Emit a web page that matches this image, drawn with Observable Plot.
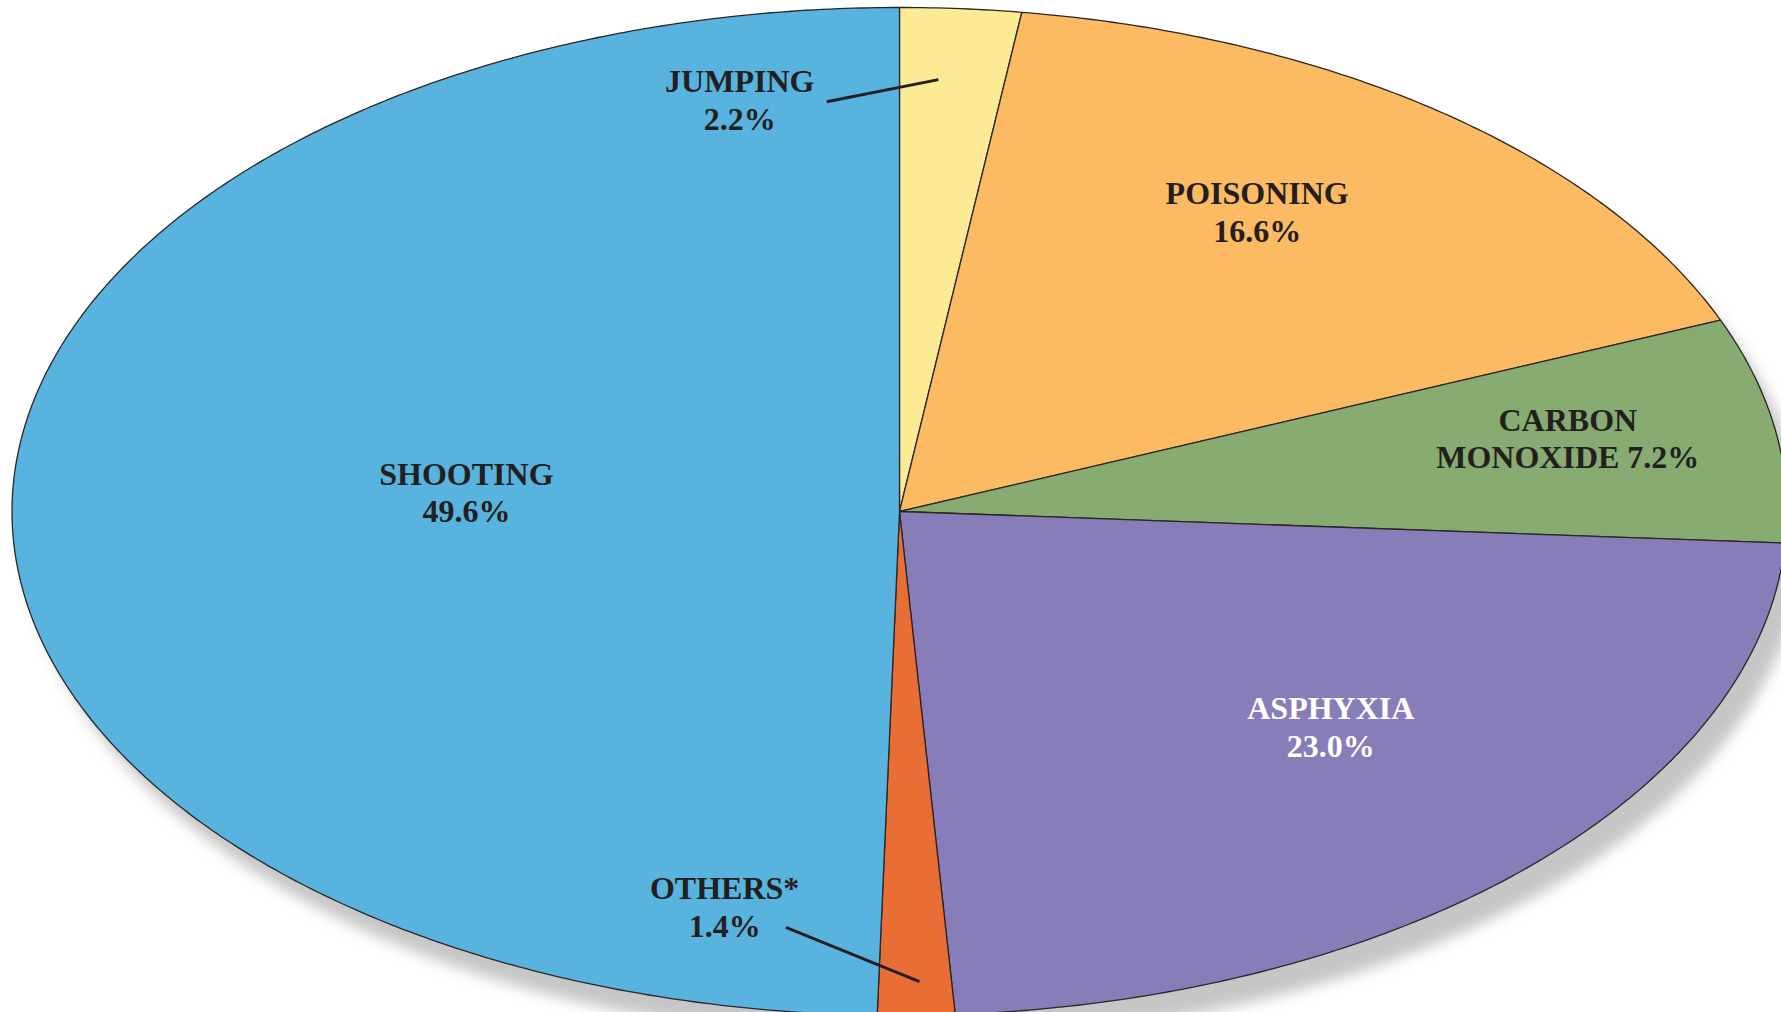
<!DOCTYPE html>
<html>
<head>
<meta charset="utf-8">
<script src="https://cdn.jsdelivr.net/npm/d3@7"></script>
<script src="https://cdn.jsdelivr.net/npm/@observablehq/plot@0.6"></script>
<style>
  html, body { margin: 0; padding: 0; background: #ffffff; overflow: hidden; }
  #chart svg { display: block; }
</style>
</head>
<body>
<div id="chart"></div>
<script>
// ---- data ----
const causes = ["JUMPING", "POISONING", "CARBON MONOXIDE", "ASPHYXIA", "OTHERS*", "SHOOTING"];
const shares = [2.2, 16.6, 7.2, 23.0, 1.4, 49.6];
const sliceColors = ["#FDEA95", "#FCBA63", "#87AB71", "#877DB9", "#E96E35", "#58B4DE"];
// label text (name part, with its line break) — percent is appended from shares
const labelNames = ["JUMPING\n", "POISONING\n", "CARBON\nMONOXIDE ", "ASPHYXIA\n", "OTHERS*\n", "SHOOTING\n"];
const whiteLabels = ["ASPHYXIA"];
// ---- layout (label placement in scale units, leader lines) ----
const labelPos = [[-0.180, -0.819], [0.403, -0.597], [0.753, -0.147], [0.486, 0.426], [-0.197, 0.782], [-0.488, -0.040]];
const leaders = {
  "JUMPING": { from: [-0.082, -0.813], r: 0.858, frac: 0.37 },
  "OTHERS*": { from: [-0.128, 0.825], r: 0.933, frac: 0.44 }
};

const rows = causes.map((c, i) => ({ cause: c, share: shares[i] }));
const arcs = d3.pie().sort(null).value(d => d.share)(rows);

// wedge outlines in unit-circle space (the scales stretch it to the ellipse)
const wedgePts = [];
arcs.forEach(a => {
  const c = a.data.cause;
  const n = Math.max(2, Math.ceil((a.endAngle - a.startAngle) / (Math.PI / 360)));
  wedgePts.push({ cause: c, X: 0, Y: 0 });
  for (let i = 0; i <= n; i++) {
    const t = a.startAngle + (a.endAngle - a.startAngle) * i / n;
    wedgePts.push({ cause: c, X: Math.sin(t), Y: -Math.cos(t) });
  }
  wedgePts.push({ cause: c, X: 0, Y: 0 });
});

const rimPts = d3.range(0, 721).map(i => {
  const t = i / 720 * 2 * Math.PI;
  return { X: Math.sin(t), Y: -Math.cos(t) };
});

const labels = arcs.map((a, i) => ({
  cause: a.data.cause,
  text: labelNames[i] + a.data.share.toFixed(1) + "%",
  X: labelPos[i][0], Y: labelPos[i][1]
}));

const leaderLines = arcs.filter(a => leaders[a.data.cause]).map(a => {
  const L = leaders[a.data.cause];
  const t = a.startAngle + (a.endAngle - a.startAngle) * L.frac;
  return { x1: L.from[0], y1: L.from[1], x2: L.r * Math.sin(t), y2: -L.r * Math.cos(t) };
});

const plot = Plot.plot({
  width: 1781,
  height: 1012,
  margin: 0,
  style: { fontFamily: "'Liberation Serif', 'Times New Roman', serif", background: "transparent", overflow: "visible" },
  x: { domain: [-1, 1], range: [11.5, 1786.5], axis: null },
  y: { domain: [-1, 1], range: [7, 1015], axis: null },
  color: { domain: causes, range: sliceColors },
  marks: [
    Plot.line(rimPts, { x: "X", y: "Y", fill: "#c6c6c6", stroke: "none", dx: 16, dy: 24, ariaDescription: "shadow" }),
    Plot.line(wedgePts, { x: "X", y: "Y", z: "cause", fill: "cause", stroke: "#2a2626", strokeWidth: 1.3, strokeLinejoin: "round" }),
    Plot.link(leaderLines, { x1: "x1", y1: "y1", x2: "x2", y2: "y2", stroke: "#231F20", strokeWidth: 3 }),
    Plot.text(labels.filter(d => !whiteLabels.includes(d.cause)), {
      x: "X", y: "Y", text: "text", fill: "#231F20", fontSize: 32, fontWeight: "bold",
      lineHeight: 1.18, textAnchor: "middle", lineAnchor: "middle"
    }),
    Plot.text(labels.filter(d => whiteLabels.includes(d.cause)), {
      x: "X", y: "Y", text: "text", fill: "#ffffff", fontSize: 32, fontWeight: "bold",
      lineHeight: 1.18, textAnchor: "middle", lineAnchor: "middle"
    })
  ]
});

// soft drop shadow
const svg = d3.select(plot);
const defs = svg.insert("defs", ":first-child");
defs.append("filter").attr("id", "softShadow")
  .attr("x", "-10%").attr("y", "-10%").attr("width", "120%").attr("height", "120%")
  .append("feGaussianBlur").attr("stdDeviation", 7);
let shadowG = svg.select('g[aria-description="shadow"]');
if (shadowG.empty()) shadowG = svg.select('g[aria-label="line"]');
shadowG.attr("filter", "url(#softShadow)");

document.getElementById("chart").appendChild(plot);
</script>
</body>
</html>
